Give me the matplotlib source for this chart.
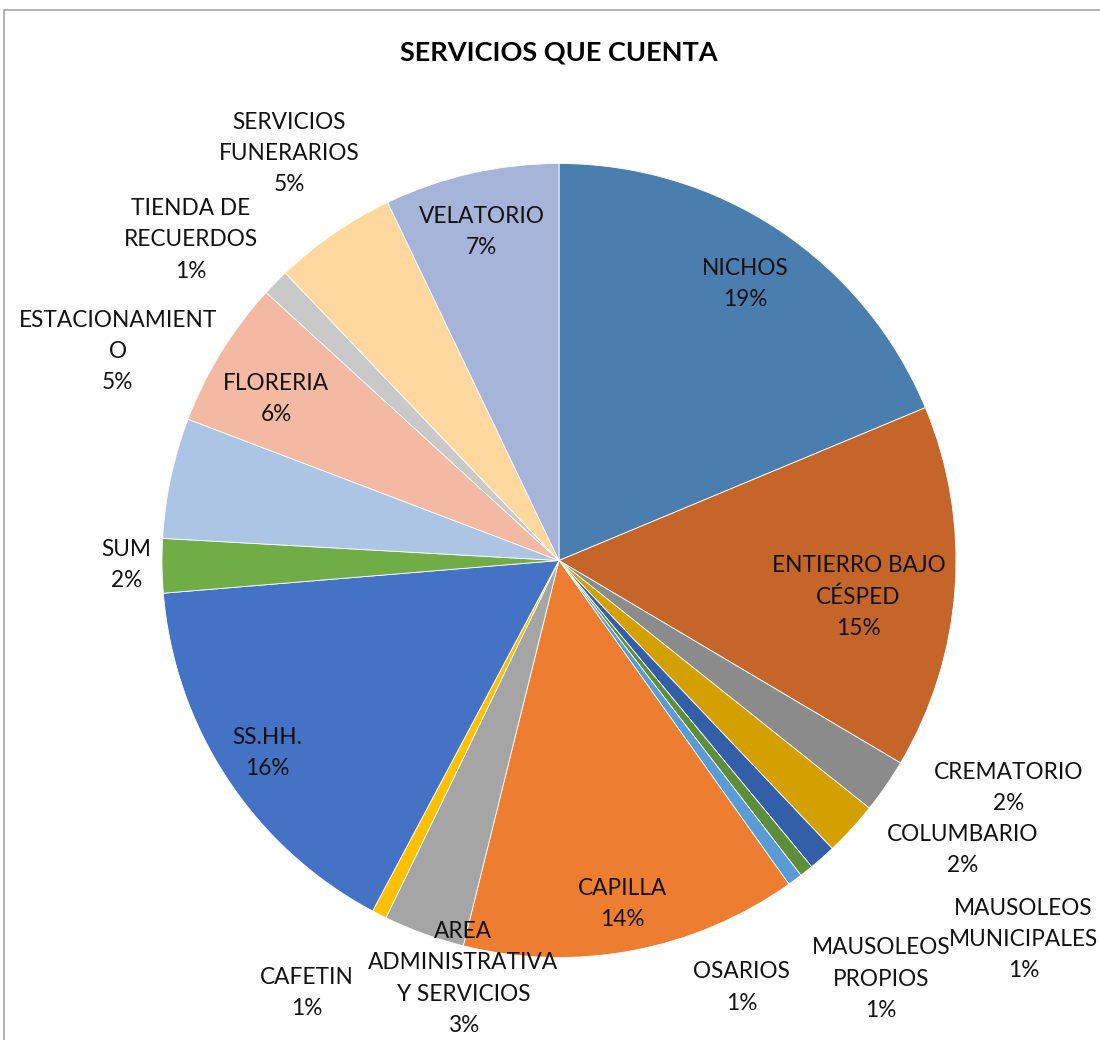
import numpy as np
import matplotlib
matplotlib.use('Agg')
import matplotlib.pyplot as plt
from matplotlib.patches import Rectangle

plt.rcParams['font.family'] = ['Lato', 'DejaVu Sans']

# datos: porcentaje de cada servicio (sentido horario desde las 12)
servicios = ['NICHOS', 'ENTIERRO BAJO\nCÉSPED', 'CREMATORIO', 'COLUMBARIO',
             'MAUSOLEOS\nMUNICIPALES', 'MAUSOLEOS\nPROPIOS', 'OSARIOS', 'CAPILLA',
             'AREA\nADMINISTRATIVA\nY SERVICIOS', 'CAFETIN', 'SS.HH.', 'SUM',
             'ESTACIONAMIENT\nO', 'FLORERIA', 'TIENDA DE\nRECUERDOS',
             'SERVICIOS\nFUNERARIOS', 'VELATORIO']
porcentaje = [18.7, 14.8, 2.2, 2.2, 1.1, 0.55, 0.6, 13.7,
              3.3, 0.6, 15.9, 2.2, 4.9, 6.0, 1.1, 5.0, 7.1]

colores = ['#4a7eaf', '#c5652a', '#8b8b8b', '#d4a000', '#335ea8', '#5d8f3a',
           '#5b9bd5', '#ed7d31', '#a5a5a5', '#ffc000', '#4472c4', '#70ad47',
           '#adc5e5', '#f4b9a2', '#c9c9c9', '#ffd89f', '#a7b4d9']
# posicion de etiquetas: radio relativo y desplazamiento angular respecto al centro de la cuña
lab_r = [0.84, 0.76, 1.27, 1.25, 1.51, 1.33, 1.17, 0.88,
         1.08, 1.26, 0.88, 1.09, 1.23, 0.82, 1.23, 1.23, 0.85]
lab_dt = [-0.3, -2.9, 7.8, 6.9, 9.3, -1.0, -13.3, -0.3,
          7.0, -3.3, 0.1, -0.2, -13.3, 1.9, 3.4, -1.0, 0.5]

W, H, R = 1100, 1040, 397.0
cx, cy = 559, 560.5
fig = plt.figure(figsize=(W / 100, H / 100), dpi=100)
ax = fig.add_axes([0, 0, 1, 1])

wedges, _ = ax.pie(porcentaje, colors=colores, startangle=90, counterclock=False,
                   radius=1, wedgeprops=dict(edgecolor='white', linewidth=0.6))
# pie() fija sus propios limites -> se reemplazan para que 1 unidad = R px
ax.set_aspect('auto')
ax.set_xlim(-cx / R, (W - cx) / R)
ax.set_ylim(-(H - cy) / R, cy / R)
ax.axis('off')

# marco del area del grafico
fig.patches.append(Rectangle((4 / W, -0.1), 1.2, 1 - 10 / H + 0.1, transform=fig.transFigure,
                             fill=False, edgecolor='#a6a6a6', lw=1.2))

tot = sum(porcentaje)
for w, name, v, r, dt in zip(wedges, servicios, porcentaje, lab_r, lab_dt):
    ang = np.deg2rad((w.theta1 + w.theta2) / 2 + dt)
    ax.text(r * np.cos(ang), r * np.sin(ang), '%s\n%.0f%%' % (name, v / tot * 100),
            ha='center', va='center', fontsize=16.3, linespacing=1.6, color='#111111')

fig.text(559 / W, 1 - 52 / H, 'SERVICIOS QUE CUENTA', ha='center', va='center',
         fontsize=19.5, fontweight='bold')

fig.savefig('out.png', dpi=100)
